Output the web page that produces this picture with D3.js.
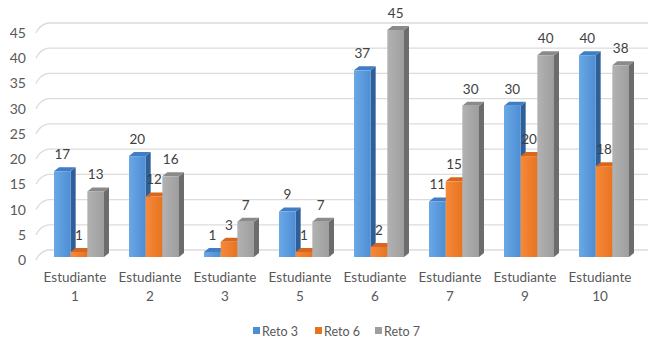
<!DOCTYPE html>
<html>
<head>
<meta charset="utf-8">
<script src="https://cdn.jsdelivr.net/npm/d3@7"></script>
<style>
  body { margin: 0; background: #fff; }
  svg { display: block; font-family: Lato, "Open Sans", sans-serif; }
</style>
</head>
<body>
<div id="main"></div>
<script>
// data
const students = ['Estudiante 1', 'Estudiante 2', 'Estudiante 3', 'Estudiante 5',
                  'Estudiante 6', 'Estudiante 7', 'Estudiante 9', 'Estudiante 10'];
const series = ['Reto 3', 'Reto 6', 'Reto 7'];
const reto3 = [17, 20, 1, 9, 37, 11, 30, 40];
const reto6 = [1, 12, 3, 1, 2, 15, 20, 18];
const reto7 = [13, 16, 7, 7, 45, 30, 40, 38];
const yTicks = [0, 5, 10, 15, 20, 25, 30, 35, 40, 45];

const values = [reto3, reto6, reto7];

const width = 651, height = 345;
const colors = {
  'Reto 3': { front: ['#6aa8e6', '#4d8dd3'], side: '#2e5f98', top: '#3f7dc4' },
  'Reto 6': { front: ['#f58a3c', '#e8731f'], side: '#b0561a', top: '#d7671f' },
  'Reto 7': { front: ['#b2b2b2', '#9e9e9e'], side: '#6c6c6c', top: '#8a8a8a' }
};

const svg = d3.select('#main').append('svg')
  .attr('width', width)
  .attr('height', height);

// depth offsets of the 3d look
const wall = { dx: 12, dy: -10 };
const barOff = { dx: 4, dy: -3 };
const barDepth = { dx: 5, dy: -4 };

const y = d3.scaleLinear().domain([0, 45]).range([260, 33]);
const x = d3.scaleBand().domain(students).range([37.5, 637.5])
  .paddingInner(1 / 3).paddingOuter(1 / 6);
const xs = d3.scaleBand().domain(series).range([0, x.bandwidth()]);

// gradients for front faces
const defs = svg.append('defs');
series.forEach((s, i) => {
  const g = defs.append('linearGradient').attr('id', 'g' + i)
    .attr('x1', 0).attr('x2', 1).attr('y1', 0).attr('y2', 0);
  g.append('stop').attr('offset', 0).attr('stop-color', colors[s].front[0]);
  g.append('stop').attr('offset', 1).attr('stop-color', colors[s].front[1]);
});

// gridlines: side wall slant + back wall
const grid = svg.append('g');
const wallLeft = 36, wallRight = 648;
yTicks.forEach(t => {
  const yf = y(t);
  grid.append('path')
    .attr('d', `M${wallLeft},${yf}Q${wallLeft + 4},${yf + wall.dy * 0.85} ${wallLeft + wall.dx},${yf + wall.dy}L${wallRight},${yf + wall.dy}`)
    .attr('fill', 'none')
    .attr('stroke', '#dcdcdc')
    .attr('stroke-width', 1.3);
});

// y axis labels
svg.append('g').selectAll('text')
  .data(yTicks)
  .enter()
  .append('text')
  .attr('x', 26)
  .attr('y', d => y(d))
  .attr('dy', '0.36em')
  .attr('text-anchor', 'end')
  .attr('font-size', 14)
  .attr('fill', '#595959')
  .text(d => d);

// category labels
const cats = svg.append('g').selectAll('text')
  .data(students)
  .enter()
  .append('text')
  .attr('text-anchor', 'middle')
  .attr('font-size', 13.5)
  .attr('fill', '#595959');
cats.append('tspan')
  .attr('x', d => x(d) + x.bandwidth() / 2)
  .attr('y', 282)
  .text(d => d.split(' ')[0]);
cats.append('tspan')
  .attr('x', d => x(d) + x.bandwidth() / 2)
  .attr('y', 301)
  .text(d => d.split(' ')[1]);

// bars
const bars = svg.append('g');
students.forEach((st, ci) => {
  series.forEach((s, si) => {
    const v = values[si][ci];
    const x0 = x(st) + xs(s) + barOff.dx;
    const x1 = x0 + xs.bandwidth();
    const yb = y(0) + barOff.dy;
    const yt = y(v) + barOff.dy;
    const g = bars.append('g');
    // side face
    g.append('path')
      .attr('d', `M${x1},${yb}L${x1 + barDepth.dx},${yb + barDepth.dy}L${x1 + barDepth.dx},${yt + barDepth.dy}L${x1},${yt}Z`)
      .attr('fill', colors[s].side);
    // top face
    g.append('path')
      .attr('d', `M${x0},${yt}L${x0 + barDepth.dx},${yt + barDepth.dy}L${x1 + barDepth.dx},${yt + barDepth.dy}L${x1},${yt}Z`)
      .attr('fill', colors[s].top);
    // front face
    g.append('rect')
      .attr('x', x0)
      .attr('y', yt)
      .attr('width', xs.bandwidth())
      .attr('height', yb - yt)
      .attr('fill', `url(#g${si})`);
    // value label
    g.append('text')
      .attr('x', (x0 + x1) / 2)
      .attr('y', yt + barDepth.dy - 13)
      .attr('dy', '0.36em')
      .attr('text-anchor', 'middle')
      .attr('font-size', 13.5)
      .attr('fill', '#404040')
      .text(v);
  });
});

// legend
const legend = svg.append('g').attr('transform', 'translate(253, 331)');
const legX = [0, 62, 122];
series.forEach((s, i) => {
  legend.append('rect')
    .attr('x', legX[i])
    .attr('y', -4)
    .attr('width', 7)
    .attr('height', 7)
    .attr('fill', colors[s].front[1]);
  legend.append('text')
    .attr('x', legX[i] + 9)
    .attr('y', 0)
    .attr('dy', '0.36em')
    .attr('font-size', 12.5)
    .attr('fill', '#595959')
    .text(s);
});
</script>
</body>
</html>
